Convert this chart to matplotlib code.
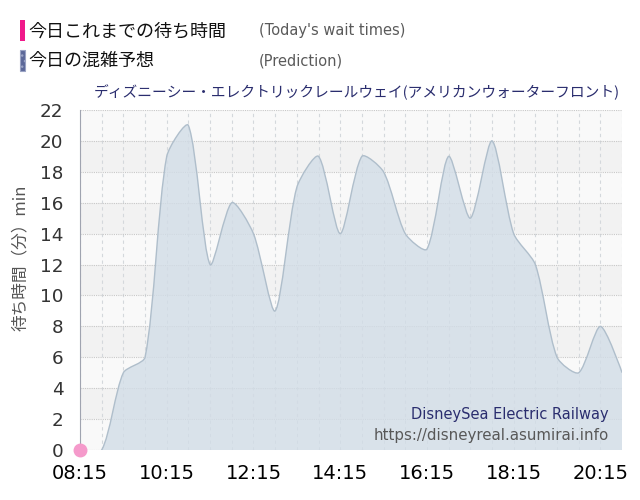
import numpy as np
import matplotlib
matplotlib.use("Agg")
import matplotlib.pyplot as plt
from matplotlib.path import Path
from matplotlib.patches import PathPatch, Rectangle

plt.rcParams['font.family'] = ['DejaVu Sans', 'Noto Sans CJK JP']

# prediction (今日の混雑予想), every 30 min
pred_times = ["08:15", "08:45", "09:15", "09:45", "10:15", "10:45", "11:15", "11:45",
              "12:15", "12:45", "13:15", "13:45", "14:15", "14:45", "15:15", "15:45",
              "16:15", "16:45", "17:15", "17:45", "18:15", "18:45", "19:15", "19:45",
              "20:15", "20:45"]
pred_wait = [0, 0, 5, 6, 19, 21, 12, 16, 14, 9, 17, 19, 14, 19, 18, 14,
             13, 19, 15, 20, 14, 12, 6, 5, 8, 5]

# today's actual wait times (今日これまでの待ち時間)
today_times = ["08:15"]
today_wait = [0]

xtick_labels = ["08:15", "10:15", "12:15", "14:15", "16:15", "18:15", "20:15"]
ytick_vals = list(range(0, 23, 2))

title = "ディズニーシー・エレクトリックレールウェイ(アメリカンウォーターフロント)"


def to_min(t):
    h, m = t.split(":")
    return int(h) * 60 + int(m)


def spline_path(xs, ys, base=None, tension=0.25, sx=0.72, sy=15.4):
    # chart.js style cardinal curve, distances measured in screen-ish units
    n = len(xs)
    pts = [(xs[i] * sx, ys[i] * sy) for i in range(n)]
    cprev = list(pts)
    cnext = list(pts)
    for i in range(1, n - 1):
        p0, p1, p2 = pts[i - 1], pts[i], pts[i + 1]
        d01 = np.hypot(p1[0] - p0[0], p1[1] - p0[1])
        d12 = np.hypot(p2[0] - p1[0], p2[1] - p1[1])
        s01 = d01 / (d01 + d12)
        s12 = d12 / (d01 + d12)
        fa = tension * s01
        fb = tension * s12
        cprev[i] = (p1[0] - fa * (p2[0] - p0[0]), p1[1] - fa * (p2[1] - p0[1]))
        cnext[i] = (p1[0] + fb * (p2[0] - p0[0]), p1[1] + fb * (p2[1] - p0[1]))
    back = lambda p: (p[0] / sx, p[1] / sy)
    verts = [(xs[0], ys[0])]
    codes = [Path.MOVETO]
    for i in range(1, n):
        verts += [back(cnext[i - 1]), back(cprev[i]), (xs[i], ys[i])]
        codes += [Path.CURVE4] * 3
    if base is not None:
        verts += [(xs[-1], base), (xs[0], base), (xs[0], ys[0])]
        codes += [Path.LINETO, Path.LINETO, Path.CLOSEPOLY]
    return Path(verts, codes)


px = [to_min(t) for t in pred_times]
tx = [to_min(t) for t in today_times]

fig = plt.figure(figsize=(6.4, 5), dpi=100)
ax = fig.add_axes([0.125, 0.1, 0.847, 0.68])

ax.set_xlim(to_min("08:15"), to_min("20:45"))
ax.set_ylim(0, 22)

# alternating bands
for k, y0 in enumerate(range(0, 22, 2)):
    ax.axhspan(y0, y0 + 2, color='#f2f2f2' if k % 2 else '#f9f9f9', lw=0, zorder=0)

for t in range(to_min("08:15"), to_min("20:45") + 1, 30):
    ax.axvline(t, color='#d4d8dc', lw=0.8, ls=(0, (3, 3)), zorder=1)
for v in ytick_vals:
    ax.axhline(v, color='#c8c8c8', lw=0.8, ls=(0, (1, 1)), zorder=1)

ax.add_patch(PathPatch(spline_path(px, pred_wait, base=0), facecolor='#d2dde7',
                       alpha=0.8, edgecolor='none', zorder=2))
ax.add_patch(PathPatch(spline_path(px, pred_wait), facecolor='none',
                       edgecolor='#afbecb', lw=1.0, zorder=3))

ax.plot(tx, today_wait, 'o', color='#f59acb', ms=9, clip_on=False, zorder=5)

ax.set_xticks([to_min(t) for t in xtick_labels])
ax.set_xticklabels(xtick_labels, fontsize=14, color='black')
ax.set_yticks(ytick_vals)
ax.set_yticklabels([str(v) for v in ytick_vals], fontsize=13.2, color='#333333')
ax.tick_params(axis='x', length=0, pad=10)
ax.tick_params(axis='y', length=0, pad=12)
for s in ['top', 'right', 'bottom']:
    ax.spines[s].set_visible(False)
ax.spines['left'].set_color('#a0a4b0')

ax.set_ylabel("待ち時間（分）min", fontsize=12, color='#555555',
              family=['Noto Sans CJK JP', 'DejaVu Sans'])
ax.yaxis.set_label_coords(-0.095, 0.565)

ax.text(0.975, 0.105, "DisneySea Electric Railway", transform=ax.transAxes,
        ha='right', va='center', fontsize=10.5, color='#2a2d6e', zorder=6)
ax.text(0.975, 0.042, "https://disneyreal.asumirai.info", transform=ax.transAxes,
        ha='right', va='center', fontsize=10.8, color='#585858', zorder=6)

fig.text(0.969, 0.816, title, ha='right', va='center', fontsize=10.6,
         color='#2a2d6e', family=['Noto Sans CJK JP', 'DejaVu Sans'])

# legend
fig.add_artist(Rectangle((0.031, 0.918), 0.008, 0.042, transform=fig.transFigure,
                         facecolor='#f0198a', edgecolor='none'))
fig.add_artist(Rectangle((0.031, 0.858), 0.008, 0.042, transform=fig.transFigure,
                         facecolor='#5c6899', edgecolor='#9aa3c4', lw=0.8, hatch='...'))
fig.text(0.045, 0.938, "今日これまでの待ち時間", ha='left', va='center', fontsize=13,
         color='#111111', family=['Noto Sans CJK JP', 'DejaVu Sans'])
fig.text(0.045, 0.878, "今日の混雑予想", ha='left', va='center', fontsize=13,
         color='#111111', family=['Noto Sans CJK JP', 'DejaVu Sans'])
fig.text(0.405, 0.938, "(Today's wait times)", ha='left', va='center', fontsize=10.5,
         color='#5a5a5a')
fig.text(0.405, 0.878, "(Prediction)", ha='left', va='center', fontsize=10.5,
         color='#5a5a5a')

fig.savefig('out.png', dpi=100)
